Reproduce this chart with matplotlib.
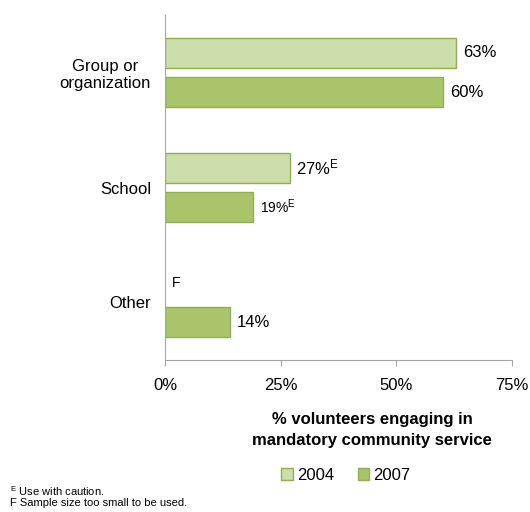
import matplotlib
matplotlib.use("Agg")
import matplotlib.pyplot as plt
import numpy as np
from matplotlib.patches import Patch

plt.rcParams['font.family'] = ['Liberation Sans', 'DejaVu Sans']
plt.rcParams['mathtext.fontset'] = 'custom'
plt.rcParams['mathtext.rm'] = 'Liberation Sans'
plt.rcParams['mathtext.default'] = 'regular'

# data ------------------------------------------------------------
categories = ['Group or\norganization', 'School', 'Other']
years = ['2004', '2007']
vals_2004 = [63, 27, None]   # None -> sample too small (F)
vals_2007 = [60, 19, 14]
labels_2004 = ['63%', '27%$^{E}$', 'F']
labels_2007 = ['60%', '19%$^{E}$', '14%']
label_sizes_2004 = [12, 12, 10]
label_sizes_2007 = [12, 10, 12]
xticks = [0, 25, 50, 75]

light = '#CDDDAC'
dark = '#AAC46C'
edge = '#8FAE55'

fig = plt.figure(figsize=(5.30, 5.12), dpi=100)
ax = fig.add_axes([165/530, 1-360/512, (512-165)/530, 345/512])

y = np.arange(len(categories))
h = 0.26
off = 0.17

for i in range(len(categories)):
    v = vals_2004[i]
    if v is not None:
        ax.barh(y[i]-off, v, height=h, color=light, edgecolor=edge, linewidth=1)
        ax.text(v+1.4, y[i]-off, labels_2004[i], va='center', ha='left',
                fontsize=label_sizes_2004[i])
    else:
        ax.text(1.4, y[i]-off, labels_2004[i], va='center', ha='left',
                fontsize=label_sizes_2004[i])
    v = vals_2007[i]
    ax.barh(y[i]+off, v, height=h, color=dark, edgecolor=edge, linewidth=1)
    ax.text(v+1.6, y[i]+off, labels_2007[i], va='center', ha='left',
            fontsize=label_sizes_2007[i])

ax.set_xlim(0, 75)
ax.set_ylim(len(categories)-0.5, -0.5)
ax.set_yticks(y)
ax.set_yticklabels(categories, fontsize=12, multialignment='center')
ax.tick_params(axis='y', length=0, pad=10)
ax.set_xticks(xticks)
ax.set_xticklabels([f'{t}%' for t in xticks], fontsize=12)
ax.tick_params(axis='x', length=4, color='#A6A6A6', pad=9)

for s in ['top', 'right']:
    ax.spines[s].set_visible(False)
ax.spines['left'].set_color('#A6A6A6')
ax.spines['bottom'].set_color('#A6A6A6')

fig.text(372/530, 1-430/512, '% volunteers engaging in\nmandatory community service',
         ha='center', va='center', fontsize=12, fontweight='bold', linespacing=1.55)

handles = [Patch(facecolor=light, edgecolor=edge), Patch(facecolor=dark, edgecolor=edge)]
fig.legend(handles, years, loc='center', bbox_to_anchor=(346/530, 1-475/512),
           ncol=2, frameon=False, fontsize=12, handlelength=0.7, handleheight=0.7,
           handletextpad=0.25, columnspacing=1.4)

fig.text(10/530, 1-491/512, '$^{E}$ Use with caution.', fontsize=8, va='center')
fig.text(10/530, 1-503/512, 'F Sample size too small to be used.', fontsize=8, va='center')

fig.savefig('out.png', dpi=100)
